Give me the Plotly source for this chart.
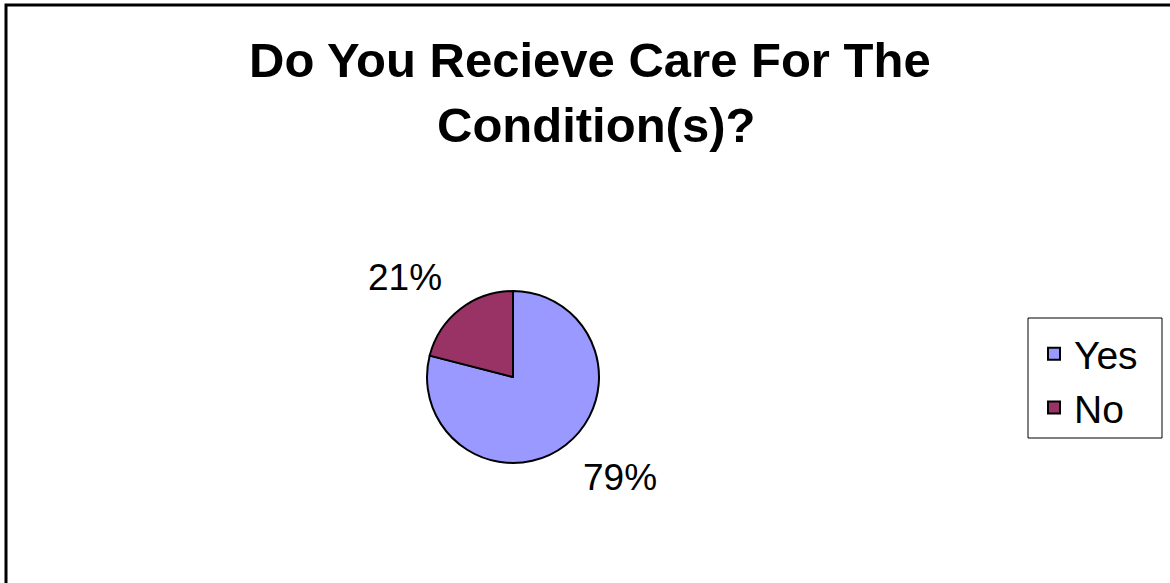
import plotly.graph_objects as go

W, H = 1170, 583

labels = ["Yes", "No"]
values = [79, 21]
colors = ["#9999FF", "#993366"]
title_lines = ["Do You Recieve Care For The", "Condition(s)?"]

FONT = "Arial, 'Liberation Sans', sans-serif"

def px_x(x):
    return x / W

def px_y(y):
    return 1 - y / H

total = sum(values)
pct = [f"{round(v / total * 100)}%" for v in values]

cx, cy, r = 513, 377, 86

fig = go.Figure()
fig.add_trace(go.Pie(
    labels=labels,
    values=values,
    sort=False,
    direction="clockwise",
    rotation=0,
    textinfo="none",
    hoverinfo="label+percent",
    marker=dict(colors=colors, line=dict(color="black", width=2)),
    domain=dict(x=[px_x(cx - r), px_x(cx + r)], y=[px_y(cy + r), px_y(cy - r)]),
))

annotations = [
    dict(text=f"<b>{title_lines[0]}</b>", x=px_x(590), y=px_y(60), font=dict(size=49)),
    dict(text=f"<b>{title_lines[1]}</b>", x=px_x(596), y=px_y(125), font=dict(size=49)),
    dict(text=pct[1], x=px_x(405), y=px_y(277), font=dict(size=37)),
    dict(text=pct[0], x=px_x(620), y=px_y(477), font=dict(size=37)),
]
for a in annotations:
    a.update(xref="paper", yref="paper", showarrow=False, xanchor="center", yanchor="middle")
    a["font"].update(family=FONT, color="black")

fig.update_layout(
    width=W, height=H,
    margin=dict(l=0, r=0, t=0, b=0),
    paper_bgcolor="white",
    plot_bgcolor="white",
    font=dict(family=FONT, color="black"),
    annotations=annotations,
    showlegend=True,
    legend=dict(
        x=px_x(1034), y=px_y(322), xanchor="left", yanchor="top",
        borderwidth=0, bgcolor="rgba(0,0,0,0)",
        font=dict(size=39, family=FONT, color="black"),
    ),
    shapes=[
        dict(
            type="path", xref="paper", yref="paper",
            path=f"M {px_x(6)},0 L {px_x(6)},{px_y(5)} L 1,{px_y(5)}",
            line=dict(color="black", width=3),
        ),
        dict(
            type="rect", xref="paper", yref="paper",
            x0=px_x(1028), x1=px_x(1162), y0=px_y(438), y1=px_y(318),
            line=dict(color="black", width=1), fillcolor="white",
        ),
    ],
)

fig.write_html(
    "out.html",
    config={"displayModeBar": False},
    post_script="document.body.style.margin='0';document.body.style.overflow='hidden';",
)
